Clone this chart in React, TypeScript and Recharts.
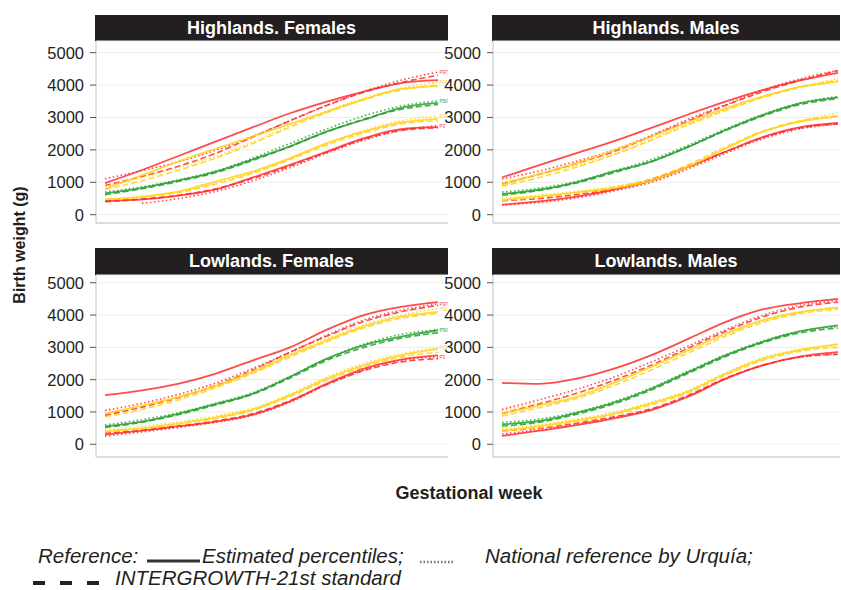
import { LineChart, Line, XAxis, YAxis, CartesianGrid } from "recharts";

const weeks = [24, 26, 28, 30, 32, 34, 36, 38, 40, 42];
const weightTicks = [0, 500, 1000, 1500, 2000, 2500, 3000, 3500, 4000, 4500, 5000];
const percentiles = ["P3", "P10", "P50", "P90", "P97"];
const percentileColors = ["#ff2b2b", "#ffd21a", "#23a02a", "#ffd21a", "#ff2b2b"];

// rows: P3, P10, P50, P90, P97 — one value per week above
const hfEstimated = [
  [420, 470, 590, 780, 1150, 1540, 1950, 2360, 2640, 2700],
  [480, 560, 720, 1030, 1335, 1745, 2210, 2570, 2845, 2960],
  [660, 830, 1060, 1330, 1710, 2110, 2570, 2930, 3300, 3450],
  [800, 1220, 1650, 2040, 2420, 2800, 3180, 3560, 3880, 3970],
  [975, 1380, 1820, 2260, 2700, 3130, 3490, 3800, 4060, 4150],
];
const hfUrquia = [
  [null, 350, 500, 720, 1050, 1450, 1900, 2300, 2600, 2750],
  [null, 540, 700, 980, 1300, 1720, 2200, 2600, 2900, 3050],
  [700, 860, 1080, 1350, 1750, 2200, 2650, 3050, 3350, 3520],
  [880, 1150, 1450, 1800, 2250, 2750, 3200, 3600, 3900, 4100],
  [1110, 1360, 1640, 1990, 2420, 2900, 3370, 3800, 4150, 4400],
];
const hfIntergrowth = [
  [400, 480, 600, 800, 1120, 1500, 1930, 2330, 2600, 2680],
  [440, 540, 690, 950, 1280, 1700, 2150, 2520, 2800, 2900],
  [620, 800, 1030, 1300, 1680, 2100, 2560, 2950, 3250, 3400],
  [780, 1050, 1380, 1750, 2200, 2700, 3150, 3550, 3850, 4000],
  [900, 1180, 1500, 1900, 2400, 2900, 3380, 3780, 4080, 4300],
];

const hmEstimated = [
  [310, 410, 560, 770, 1050, 1480, 1950, 2400, 2700, 2830],
  [460, 565, 690, 820, 1050, 1490, 2050, 2570, 2875, 3030],
  [640, 770, 1000, 1335, 1640, 2100, 2620, 3080, 3440, 3620],
  [925, 1260, 1590, 1990, 2410, 2860, 3290, 3650, 3950, 4100],
  [1150, 1530, 1900, 2270, 2680, 3100, 3500, 3850, 4150, 4380],
];
const hmUrquia = [
  [300, 380, 520, 730, 1000, 1420, 1900, 2350, 2650, 2800],
  [520, 600, 720, 870, 1080, 1500, 2050, 2550, 2900, 3150],
  [700, 820, 1030, 1350, 1700, 2150, 2650, 3100, 3450, 3650],
  [1000, 1250, 1520, 1870, 2330, 2800, 3250, 3650, 3950, 4200],
  [1100, 1350, 1650, 2000, 2450, 2950, 3400, 3850, 4200, 4450],
];
const hmIntergrowth = [
  [430, 500, 620, 800, 1100, 1500, 1950, 2380, 2680, 2800],
  [440, 540, 680, 850, 1100, 1550, 2100, 2580, 2900, 3050],
  [600, 750, 980, 1300, 1640, 2100, 2600, 3050, 3400, 3580],
  [880, 1150, 1470, 1850, 2300, 2780, 3220, 3620, 3930, 4150],
  [950, 1250, 1580, 1950, 2420, 2900, 3380, 3800, 4150, 4450],
];

const lfEstimated = [
  [300, 420, 560, 700, 920, 1330, 1880, 2340, 2620, 2750],
  [400, 500, 650, 830, 1080, 1520, 2030, 2450, 2750, 2950],
  [550, 700, 950, 1250, 1570, 2090, 2650, 3070, 3330, 3530],
  [950, 1200, 1470, 1800, 2240, 2750, 3220, 3650, 3950, 4100],
  [1520, 1670, 1880, 2190, 2600, 3000, 3550, 4000, 4250, 4400],
];
const lfUrquia = [
  [250, 380, 520, 680, 900, 1300, 1850, 2300, 2600, 2700],
  [450, 560, 700, 880, 1120, 1560, 2080, 2500, 2800, 3000],
  [600, 760, 980, 1270, 1600, 2100, 2650, 3100, 3400, 3550],
  [950, 1200, 1480, 1850, 2300, 2800, 3280, 3700, 4000, 4200],
  [1050, 1270, 1550, 1900, 2350, 2850, 3380, 3850, 4150, 4350],
];
const lfIntergrowth = [
  [350, 430, 560, 720, 950, 1350, 1850, 2280, 2550, 2650],
  [380, 480, 620, 800, 1050, 1480, 1980, 2400, 2700, 2850],
  [520, 680, 920, 1220, 1550, 2050, 2600, 3000, 3280, 3450],
  [850, 1080, 1380, 1750, 2200, 2700, 3180, 3600, 3900, 4050],
  [900, 1150, 1450, 1820, 2300, 2850, 3350, 3800, 4100, 4300],
];

const lmEstimated = [
  [260, 420, 590, 800, 1060, 1480, 2030, 2450, 2720, 2850],
  [420, 560, 740, 950, 1270, 1640, 2190, 2650, 2920, 3100],
  [620, 720, 970, 1290, 1720, 2240, 2760, 3180, 3500, 3680],
  [950, 1200, 1470, 1900, 2400, 2920, 3430, 3850, 4100, 4230],
  [1900, 1870, 2030, 2340, 2760, 3270, 3790, 4180, 4370, 4500],
];
const lmUrquia = [
  [320, 450, 620, 830, 1080, 1500, 2030, 2450, 2700, 2800],
  [480, 600, 780, 1000, 1300, 1680, 2220, 2680, 2950, 3050],
  [680, 780, 1000, 1320, 1750, 2270, 2780, 3200, 3500, 3650],
  [1050, 1280, 1550, 1920, 2400, 2900, 3400, 3800, 4080, 4250],
  [1080, 1380, 1700, 2080, 2550, 3050, 3550, 4000, 4300, 4450],
];
const lmIntergrowth = [
  [420, 500, 650, 850, 1100, 1520, 2050, 2450, 2700, 2780],
  [400, 520, 700, 920, 1220, 1600, 2150, 2600, 2880, 3000],
  [560, 680, 930, 1250, 1680, 2200, 2720, 3150, 3450, 3600],
  [880, 1130, 1420, 1820, 2300, 2830, 3350, 3780, 4050, 4180],
  [950, 1250, 1580, 1980, 2450, 2980, 3500, 3950, 4250, 4400],
];

const FONT = "'Liberation Sans', Arial, Helvetica, sans-serif";
const INK = "#231f20";

const lineStyles = [
  { key: "ig", dash: "6 3" },
  { key: "urq", dash: "1.5 2.5" },
  { key: "est", dash: undefined },
];

function buildRows(est, urq, ig) {
  return weeks.map((week, i) => {
    const row: any = { week };
    percentiles.forEach((p, k) => {
      row["est" + p] = est[k][i];
      row["urq" + p] = urq[k][i];
      row["ig" + p] = ig[k][i];
    });
    return row;
  });
}

// small percentile tag at the right end of each reference curve
function endLabel(name, color) {
  return (props) => {
    if (props.index !== weeks.length - 1 || props.x == null) return null;
    return (
      <text x={props.x + 1.5} y={props.y + 2} fontSize={4.5} fill={color} fontFamily={FONT}>
        {name}
      </text>
    );
  };
}

function Panel({ title, est, urq, ig, axisX, plotTop, plotWidth, padRight, domain, headerH, tags }) {
  const rows = buildRows(est, urq, ig);
  const extra = tags ? 3 : 0;
  return (
    <>
      <div
        style={{
          position: "absolute",
          left: axisX - 1,
          top: plotTop - headerH,
          width: plotWidth + 1,
          height: headerH,
          background: INK,
          color: "#fff",
          fontFamily: FONT,
          fontWeight: "bold",
          fontSize: 18,
          lineHeight: headerH + "px",
          textAlign: "center",
        }}
      >
        {title}
      </div>
      <div style={{ position: "absolute", left: axisX - 96, top: plotTop - 41 }}>
        <LineChart
          width={96 + plotWidth + extra}
          height={239}
          data={rows}
          margin={{ top: 41, right: extra, left: 0, bottom: 0 }}
        >
          <CartesianGrid vertical={false} stroke="#ededed" />
          <XAxis
            dataKey="week"
            type="number"
            domain={[24, 42]}
            ticks={weeks}
            tick={false}
            height={16}
            tickSize={5}
            padding={{ left: 9, right: padRight }}
            axisLine={{ stroke: "#c4c4c4" }}
            tickLine={{ stroke: "#555" }}
          />
          <YAxis
            type="number"
            domain={domain}
            ticks={weightTicks}
            width={96}
            tickSize={6}
            tickMargin={6}
            axisLine={{ stroke: "#c4c4c4" }}
            tickLine={{ stroke: "#555" }}
            tick={{ fill: INK, fontSize: 16.5, fontFamily: FONT }}
          />
          {lineStyles.map((s) =>
            percentiles.map((p, k) => (
              <Line
                key={s.key + p}
                dataKey={s.key + p}
                type="monotone"
                stroke={percentileColors[k]}
                strokeWidth={s.key === "est" ? 1.8 : 1.6}
                strokeOpacity={0.85}
                strokeDasharray={s.dash}
                dot={false}
                connectNulls
                isAnimationActive={false}
                label={tags && s.key === "urq" ? endLabel(p, percentileColors[k]) : undefined}
              />
            ))
          )}
        </LineChart>
      </div>
    </>
  );
}

export default function App() {
  const topDomain = [-256, 5360];
  const bottomDomain = [-394, 5240];
  return (
    <div style={{ position: "absolute", left: 0, top: 0, width: 841, height: 590, background: "#fff", overflow: "hidden" }}>
      <Panel title="Highlands. Females" est={hfEstimated} urq={hfUrquia} ig={hfIntergrowth}
        axisX={96} plotTop={41} plotWidth={352} padRight={10} domain={topDomain} headerH={26} tags />
      <Panel title="Highlands. Males" est={hmEstimated} urq={hmUrquia} ig={hmIntergrowth}
        axisX={493} plotTop={41} plotWidth={347} padRight={2} domain={topDomain} headerH={26} tags={false} />
      <Panel title="Lowlands. Females" est={lfEstimated} urq={lfUrquia} ig={lfIntergrowth}
        axisX={96} plotTop={275} plotWidth={352} padRight={10} domain={bottomDomain} headerH={27} tags />
      <Panel title="Lowlands. Males" est={lmEstimated} urq={lmUrquia} ig={lmIntergrowth}
        axisX={493} plotTop={275} plotWidth={347} padRight={2} domain={bottomDomain} headerH={27} tags={false} />
      <svg width={841} height={590} style={{ position: "absolute", left: 0, top: 0, pointerEvents: "none" }}>
        <text x={19} y={245} transform="rotate(-90 19 245)" textAnchor="middle" dominantBaseline="central"
          fontFamily={FONT} fontWeight="bold" fontSize={16} fill={INK}>
          Birth weight (g)
        </text>
        <text x={469} y={499} textAnchor="middle" fontFamily={FONT} fontWeight="bold" fontSize={18} fill={INK}>
          Gestational week
        </text>
        <g fontFamily={FONT} fontStyle="italic" fontSize={20.5} fill={INK}>
          <text x={38} y={563}>Reference:</text>
          <line x1={147} y1={561} x2={200} y2={561} stroke="#333" strokeWidth={3} />
          <text x={202} y={563}>Estimated percentiles;</text>
          <line x1={420} y1={562} x2={455} y2={562} stroke="#777" strokeWidth={2.5} strokeDasharray="1.5 2" />
          <text x={485} y={563}>National reference by Urquía;</text>
          <line x1={33} y1={583} x2={102} y2={583} stroke="#222" strokeWidth={4} strokeDasharray="12 15" />
          <text x={115} y={585}>INTERGROWTH-21st standard</text>
        </g>
      </svg>
    </div>
  );
}
